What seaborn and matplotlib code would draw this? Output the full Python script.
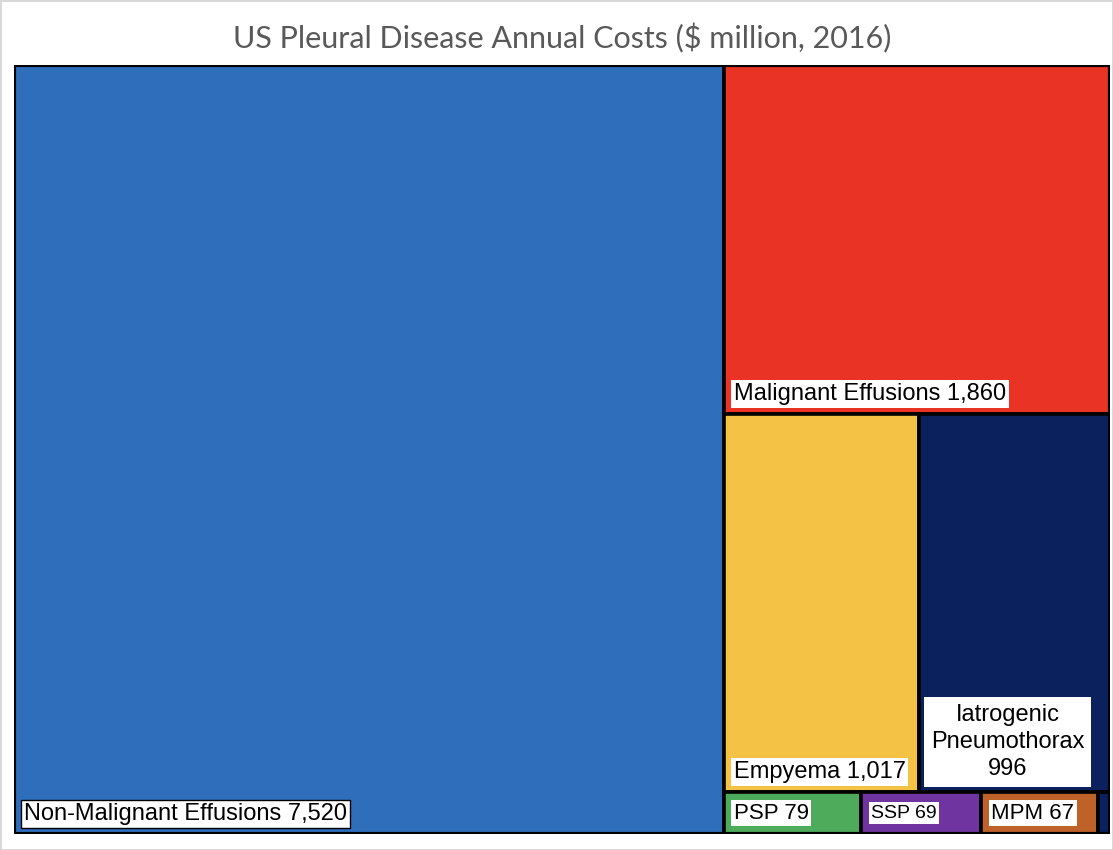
import matplotlib
matplotlib.use("Agg")
import matplotlib.pyplot as plt
import matplotlib.patches as mpatches
import seaborn as sns

# ------------------------------------------------------------
# Data ($ million, 2016)
# ------------------------------------------------------------
labels = ["Non-Malignant Effusions 7,520", "Malignant Effusions 1,860",
          "Empyema 1,017", "Iatrogenic\nPneumothorax\n996",
          "PSP 79", "SSP 69", "MPM 67", ""]
costs = [7520, 1860, 1017, 996, 79, 69, 67, 7]
colors = ["#2F6EBA", "#E93324", "#F4C244", "#0B215D",
          "#4EAB5B", "#7034A0", "#BE6229", "#0B215D"]
label_sizes = [17, 17, 17, 17, 16, 14, 16, 16]

sns.set_style("white")
plt.rcParams['font.family'] = ['Liberation Sans', 'DejaVu Sans']

W, H = 1096.0, 769.0


def worst(row, side):
    s = sum(row)
    return max(max(side * side * r / (s * s), s * s / (side * side * r)) for r in row)


def squarify(vals, x, y, dx, dy):
    rects = []
    vals = list(vals)
    while vals:
        side = min(dx, dy)
        row = [vals[0]]
        i = 1
        while i < len(vals) and worst(row + [vals[i]], side) <= worst(row, side):
            row.append(vals[i])
            i += 1
        s = sum(row)
        if dx >= dy:
            cw = s / dy
            yy = y
            for r in row:
                rects.append((x, yy, cw, r / cw))
                yy += r / cw
            x += cw
            dx -= cw
        else:
            rh = s / dx
            xx = x
            for r in row:
                rects.append((xx, y, r / rh, rh))
                xx += r / rh
            y += rh
            dy -= rh
        vals = vals[i:]
    return rects


total = sum(costs)
areas = [c / total * W * H for c in costs]
rects = squarify(areas, 0, 0, W, H)

fig = plt.figure(figsize=(11.13, 8.5), dpi=100)
ax = fig.add_axes([14 / 1113, 1 - 834 / 850, W / 1113, H / 850])
ax.set_xlim(0, W)
ax.set_ylim(H, 0)
ax.axis("off")

for (x, y, w, h), lab, col, fs in zip(rects, labels, colors, label_sizes):
    ax.add_patch(mpatches.Rectangle((x, y), w, h, facecolor=col,
                                    edgecolor="black", linewidth=2.6))
    if not lab:
        continue
    bbox = dict(boxstyle="square,pad=0.12", fc="white",
                ec="black" if lab.startswith("Non") else "none", lw=1)
    if h < 60:
        ax.annotate(lab, xy=(x, y + h / 2), xytext=(10, 0),
                    textcoords="offset pixels", ha="left", va="center",
                    fontsize=fs, color="black", bbox=bbox)
    elif "\n" in lab:
        bbox["boxstyle"] = "square,pad=0.3"
        ax.annotate(lab, xy=(x, y + h), xytext=(12, 12),
                    textcoords="offset pixels", ha="left", va="bottom",
                    multialignment="center", fontsize=fs, color="black",
                    bbox=bbox, linespacing=1.3)
    else:
        ax.annotate(lab, xy=(x, y + h), xytext=(10, 9),
                    textcoords="offset pixels", ha="left", va="bottom",
                    fontsize=fs, color="black", bbox=bbox)

ax.add_patch(mpatches.Rectangle((0, 0), W, H, fill=False,
                                edgecolor="black", linewidth=3.0))

fig.text(0.505, 1 - 38 / 850, "US Pleural Disease Annual Costs ($ million, 2016)",
         ha="center", va="center", fontsize=22, color="#595959",
         family=["Lato", "DejaVu Sans"])

fig.patch.set_edgecolor("#d9d9d9")
fig.patch.set_linewidth(2)

plt.savefig("out.png", dpi=100)
plt.close()
